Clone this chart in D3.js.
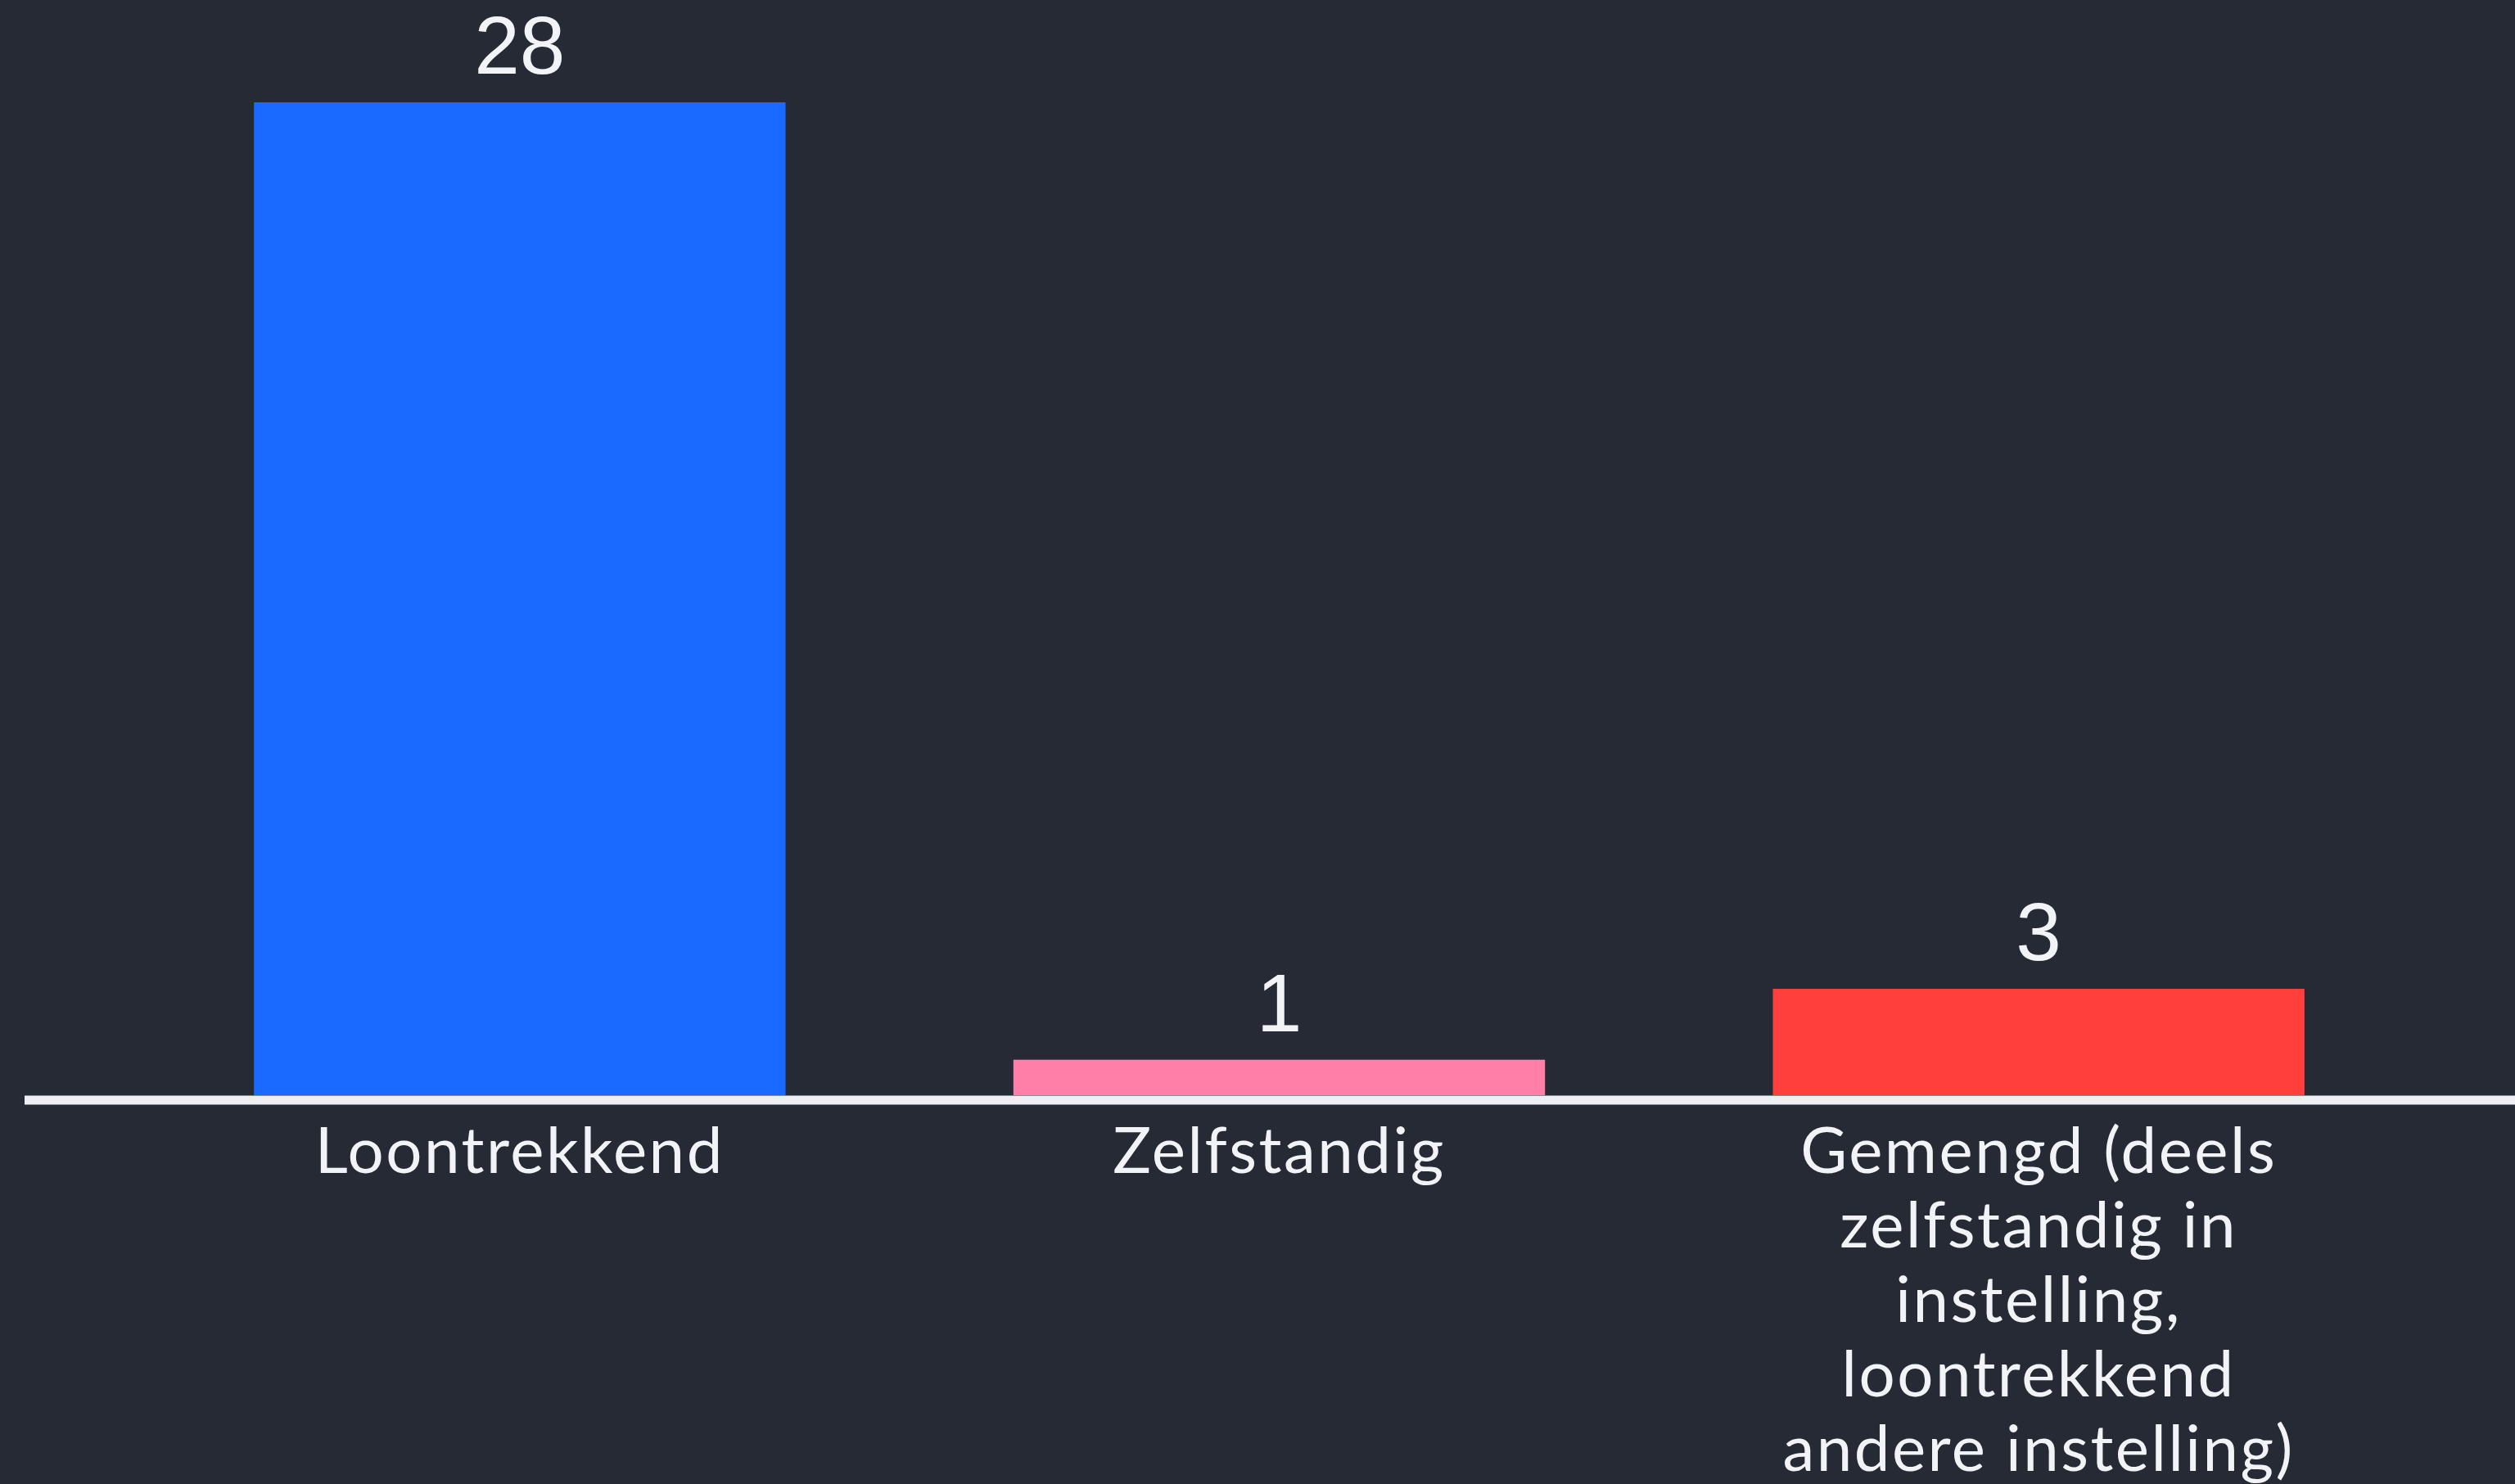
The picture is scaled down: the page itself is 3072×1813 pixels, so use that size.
<!DOCTYPE html>
<html>
<head>
<meta charset="utf-8">
<script src="https://cdn.jsdelivr.net/npm/d3@7"></script>
<style>
  html, body { margin: 0; padding: 0; background: #262a35; overflow: hidden; }
</style>
</head>
<body>
<div id="chart"></div>
<script>
// data
var categories = ["Loontrekkend", "Zelfstandig", "Gemengd (deels zelfstandig in instelling, loontrekkend andere instelling)"];
var labelLines = [
  ["Loontrekkend"],
  ["Zelfstandig"],
  ["Gemengd (deels", "zelfstandig in", "instelling,", "loontrekkend", "andere instelling)"]
];
var values = [28, 1, 3];
var colors = ["#1b6aff", "#ff7fa8", "#ff3f3b"];

var width = 3072, height = 1813;

var svg = d3.select("#chart").append("svg")
  .attr("width", width)
  .attr("height", height);

svg.append("rect")
  .attr("width", width).attr("height", height)
  .attr("fill", "#262a35");

//scales
var x = d3.scaleBand()
  .domain(categories)
  .range([171, 2954])
  .paddingInner(0.3)
  .paddingOuter(0.15);

var y = d3.scaleLinear()
  .domain([0, 28])
  .range([1338, 125]);

//bars
svg.selectAll(".bar")
  .data(values)
  .enter().append("rect")
  .attr("class", "bar")
  .attr("x", function(d, i) { return x(categories[i]); })
  .attr("width", x.bandwidth())
  .attr("y", function(d) { return y(d); })
  .attr("height", function(d) { return y(0) - y(d); })
  .attr("fill", function(d, i) { return colors[i]; });

//value labels
svg.selectAll(".val")
  .data(values)
  .enter().append("text")
  .attr("class", "val")
  .attr("x", function(d, i) { return x(categories[i]) + x.bandwidth() / 2; })
  .attr("y", function(d) { return y(d) - 35; })
  .attr("text-anchor", "middle")
  .attr("font-family", "'Liberation Sans', Arial, sans-serif")
  .attr("font-size", 100)
  .attr("fill", "#f2f3f7")
  .text(function(d) { return d; });

//baseline
svg.append("line")
  .attr("x1", 30).attr("x2", width)
  .attr("y1", y(0) + 6).attr("y2", y(0) + 6)
  .attr("stroke", "#eeeff4")
  .attr("stroke-width", 11);

//category labels
var lab = svg.selectAll(".cat")
  .data(labelLines)
  .enter().append("text")
  .attr("class", "cat")
  .attr("text-anchor", "middle")
  .attr("font-family", "Lato, 'Noto Sans', sans-serif")
  .attr("font-size", 78)
  .attr("letter-spacing", 2.5)
  .attr("fill", "#f2f3f7");

lab.each(function(lines, i) {
  var cx = x(categories[i]) + x.bandwidth() / 2;
  d3.select(this).selectAll("tspan")
    .data(lines)
    .enter().append("tspan")
    .attr("x", cx)
    .attr("y", function(d, j) { return 1433 + j * 91; })
    .text(function(d) { return d; });
});
</script>
</body>
</html>
